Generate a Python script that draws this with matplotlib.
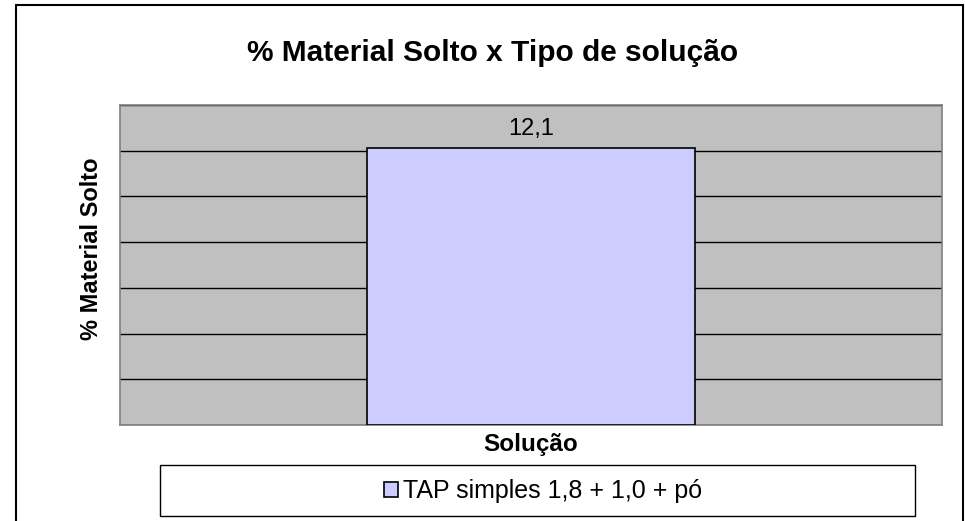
import matplotlib
matplotlib.use("Agg")
import matplotlib.pyplot as plt
from matplotlib.patches import Rectangle

categories = ["TAP simples 1,8 + 1,0 + pó"]
values = [12.1]
value_labels = ["12,1"]
title = "% Material Solto x Tipo de solução"
xlabel = "Solução"
ylabel = "% Material Solto"

plt.rcParams['font.family'] = ['Liberation Sans', 'DejaVu Sans']

W, H = 965, 521
fig = plt.figure(figsize=(W / 100, H / 100), dpi=100)

def fx(px):
    return px / W

def fy(py):
    return (H - py) / H

# outer chart border
fig.patches.append(Rectangle((fx(16), fy(540)), fx(963) - fx(16), fy(5) - fy(540),
                             transform=fig.transFigure, fill=False,
                             edgecolor='black', linewidth=1.5, zorder=0))

ax = fig.add_axes([fx(120), fy(425), fx(942) - fx(120), fy(105) - fy(425)])
ax.set_facecolor('#C0C0C0')
for s in ax.spines.values():
    s.set_color('#808080')
    s.set_linewidth(1.2)

ax.set_xlim(-0.5, 0.5)
ax.set_ylim(0, 14)
ax.set_yticks(range(0, 15, 2))
ax.yaxis.grid(True, color='black', linewidth=1.0)
ax.set_axisbelow(True)
ax.tick_params(axis='both', length=0, labelleft=False, labelbottom=False)
ax.set_xticks([])

bars = ax.bar([0], values, width=0.4, color='#CCCCFF', edgecolor='black',
              linewidth=1.2, label=categories[0], zorder=3)
for b, lab in zip(bars, value_labels):
    ax.annotate(lab, (b.get_x() + b.get_width() / 2, b.get_height()),
                xytext=(0, 14), textcoords='offset points', ha='center',
                va='center', fontsize=17)

fig.text(fx(493), fy(53), title, ha='center', va='center', fontsize=21.5,
         fontweight='bold')
fig.text(fx(531), fy(444), xlabel, ha='center', va='center', fontsize=17.5,
         fontweight='bold')
fig.text(fx(92), fy(249), ylabel, ha='center', va='center', fontsize=17,
         fontweight='bold', rotation=90)

# legend box
fig.patches.append(Rectangle((fx(160), fy(516)), fx(915) - fx(160), fy(465) - fy(516),
                             transform=fig.transFigure, fill=True,
                             facecolor='white', edgecolor='black',
                             linewidth=1.0, zorder=1))
leg = fig.legend(handles=bars, labels=categories, loc='center',
                 bbox_to_anchor=(fx(543), fy(491)), frameon=False,
                 fontsize=18, handlelength=0.55, handleheight=0.55,
                 handletextpad=0.2)

fig.savefig("out.png", dpi=100)
